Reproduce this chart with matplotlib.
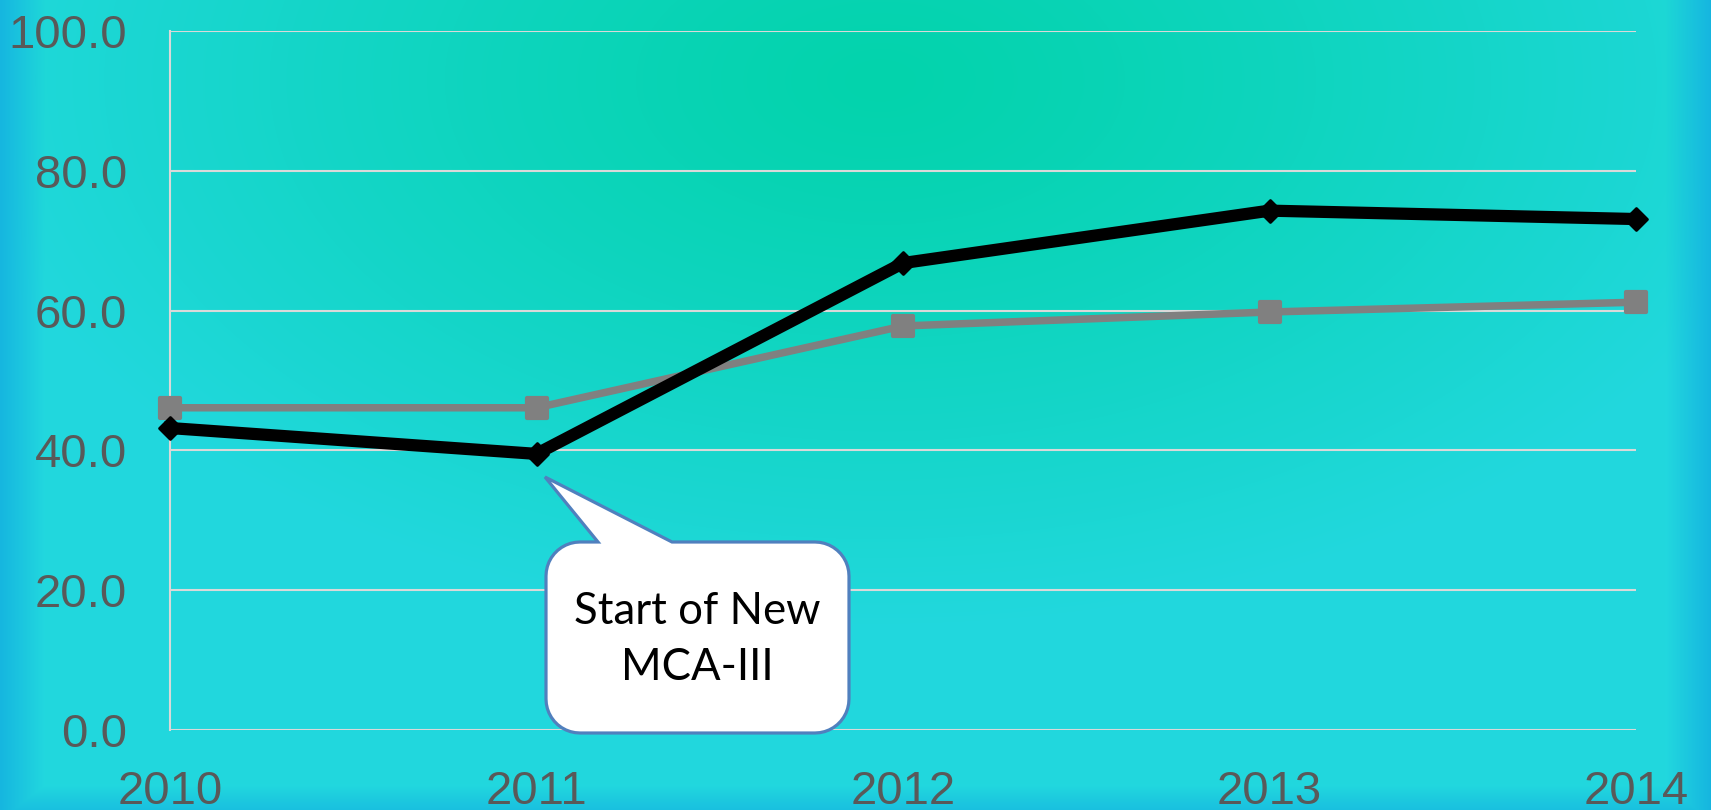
import numpy as np
import matplotlib
matplotlib.use("Agg")
import matplotlib.pyplot as plt
from matplotlib.path import Path
from matplotlib.patches import PathPatch
from matplotlib.markers import MarkerStyle
from matplotlib.colors import to_rgb

# data
years = [2010, 2011, 2012, 2013, 2014]
series_black = [43.2, 39.5, 66.8, 74.3, 73.1]
series_gray = [46.1, 46.1, 57.8, 59.8, 61.2]
ytick_vals = [0, 20, 40, 60, 80, 100]
callout_text = "Start of New\nMCA-III"

W, H = 1711, 810
fig = plt.figure(figsize=(W / 100, H / 100), dpi=100)

# background: radial green->cyan, blue near the edges
bg = fig.add_axes([0, 0, 1, 1], zorder=-10)
bg.axis("off")
yy, xx = np.mgrid[0:H, 0:W]
d = np.sqrt(((xx - 880) / 1100.0) ** 2 + ((yy - 80) / 650.0) ** 2)
t = np.clip(d / 0.85, 0, 1)[..., None] ** 1.2
green = np.array(to_rgb("#03D3AC"))
cyan = np.array(to_rgb("#22D8DE"))
blue = np.array(to_rgb("#16B6E0"))
img = green * (1 - t) + cyan * t
ex = np.clip(1 - np.minimum(xx, W - 1 - xx) / 45.0, 0, 1)
ey = np.clip(1 - (H - 1 - yy) / 25.0, 0, 1)
e = np.maximum(ex, ey * 0.7)[..., None]
img = img * (1 - e) + blue * e
bg.imshow(img, extent=[0, 1, 0, 1], aspect="auto", origin="upper")
bg.set_xlim(0, 1)
bg.set_ylim(0, 1)

ax = fig.add_axes([170 / W, 80 / H, 1466 / W, 699 / H])
ax.patch.set_alpha(0)
ax.set_xlim(2010, 2014)
ax.set_ylim(0, 100)
ax.set_yticks(ytick_vals)
ax.set_yticklabels([f"{v:.1f}" for v in ytick_vals])
ax.set_xticks(years)
ax.set_xticklabels([str(y) for y in years])
ax.grid(axis="y", color="#D9D9D9", linewidth=1.5, zorder=0)
for s in ["top", "right", "bottom"]:
    ax.spines[s].set_visible(False)
ax.spines["left"].set_color("#D9D9D9")
ax.spines["left"].set_linewidth(1.5)
ax.tick_params(length=0, labelsize=34, labelcolor="#595959", pad=29,
               labelfontfamily="Liberation Sans")
ax.tick_params(axis="y", pad=31)

sq = MarkerStyle("s", joinstyle="round")
ax.plot(years, series_gray, color="#808080", linewidth=5.4, marker=sq,
        markersize=15, markeredgewidth=3, markerfacecolor="#808080",
        markeredgecolor="#808080", clip_on=False, zorder=3)
dm = MarkerStyle("D", joinstyle="round")
ax.plot(years, series_black, color="black", linewidth=8.8, marker=dm,
        markersize=11, markeredgewidth=2, markerfacecolor="black",
        markeredgecolor="black", solid_joinstyle="round", clip_on=False, zorder=4)

# callout shape (pixel coords, y measured from top)
L, R, T, B, r = 546, 849, 542, 733, 34
tip = (545, 477)
b1, b2 = 598, 672


def arc(cx, cy, a0, a1, n=12):
    a = np.radians(np.linspace(a0, a1, n))
    return list(zip(cx + r * np.cos(a), cy + r * np.sin(a)))


pts = [(L + r, T), (b1, T), tip, (b2, T), (R - r, T)]
pts += arc(R - r, T + r, -90, 0)
pts += [(R, B - r)]
pts += arc(R - r, B - r, 0, 90)
pts += [(L + r, B)]
pts += arc(L + r, B - r, 90, 180)
pts += [(L, T + r)]
pts += arc(L + r, T + r, 180, 270)
pts = [(x / W, (H - y) / H) for x, y in pts]
path = Path(pts + [pts[0]], [Path.MOVETO] + [Path.LINETO] * (len(pts) - 1) + [Path.CLOSEPOLY])
fig.patches.append(PathPatch(path, transform=fig.transFigure, facecolor="white",
                             edgecolor="#5080BE", linewidth=2.3, zorder=5))
fig.text((L + R) / 2 / W, (H - (T + B) / 2 - 2) / H, callout_text, ha="center",
         va="center", fontsize=31.5, family="Lato", linespacing=1.45, zorder=6)

fig.savefig("out.png", dpi=100)
